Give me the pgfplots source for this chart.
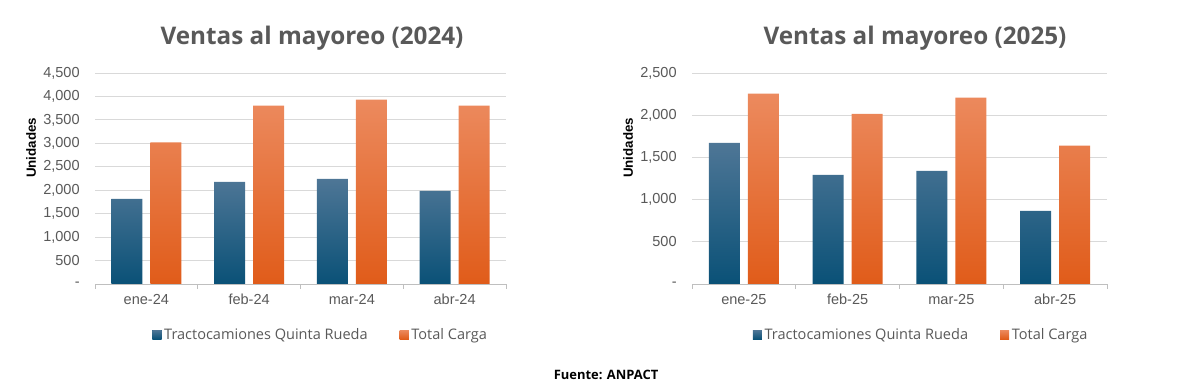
\documentclass[border=0pt]{standalone}
\usepackage{pgfplots}
\pgfplotsset{compat=1.18}
\usepackage{fontspec}
\setmainfont{Liberation Sans}
\newfontfamily\titlefont{Open Sans}
\definecolor{txt}{HTML}{595959}
\definecolor{gridc}{HTML}{D9D9D9}
\definecolor{axc}{HTML}{BFBFBF}
\definecolor{bTop}{HTML}{4E7696}
\definecolor{bMid}{HTML}{1A6189}
\definecolor{bBot}{HTML}{0A5177}
\definecolor{oTop}{HTML}{EC8A5E}
\definecolor{oMid}{HTML}{F07030}
\definecolor{oBot}{HTML}{E05C1A}
\definecolor{bLeg}{HTML}{1F5E83}
\definecolor{oLeg}{HTML}{EE7338}

\pgfplotstableread{
x trac total
0 1816 3019
1 2179 3802
2 2243 3930
3 1987 3802
}\tblA
\pgfplotstableread{
x trac total
0 1673 2255
1 1293 2017
2 1341 2207
3 866 1638
}\tblB

\pgfplotsset{
  mystyle/.style={
    scale only axis,
    height=158.25pt,
    ybar=6pt,
    bar width=23.25pt,
    xmin=-0.5, xmax=3.5,
    xtick={0,1,2,3},
    ymin=0,
    axis x line*=bottom,
    axis y line*=left,
    y axis line style={draw=none},
    x axis line style={draw=axc, line width=0.6pt},
    major tick length=0pt,
    ymajorgrids,
    grid style={draw=gridc, line width=0.6pt},
    tick label style={font=\fontsize{10.9}{12}\selectfont, text=txt},
    yticklabel style={xshift=-8pt},
    xticklabel style={yshift=-4pt},
    extra x ticks={-0.5,0.5,1.5,2.5,3.5},
    extra x tick labels={},
    extra x tick style={grid=none, major tick length=3.5pt, tick align=outside, tick style={draw=axc, line width=0.6pt}},
    legend columns=2,
    legend style={draw=none, fill=none, font=\titlefont\fontsize{10.9}{12}\selectfont, text=txt,
      anchor=center, /tikz/every even column/.append style={column sep=22pt}},
    legend cell align=left,
  },
  bluebar/.style={draw=none, top color=bTop, middle color=bMid, bottom color=bBot,
    legend image code/.code={\fill[bLeg] (0pt,-3.4pt) rectangle (6.8pt,3.4pt);}},
  orangebar/.style={draw=none, top color=oTop, middle color=oMid, bottom color=oBot,
    legend image code/.code={\fill[oLeg] (0pt,-3.4pt) rectangle (6.8pt,3.4pt);}},
}

\begin{document}
\begin{tikzpicture}
\path[use as bounding box] (0,0) rectangle (896.25pt,293.25pt);

\begin{axis}[mystyle,
  at={(71.25pt,80.25pt)}, anchor=south west,
  width=308.25pt,
  ymax=4500,
  ytick={0,500,...,4500},
  yticklabels={-,500,{1,000},{1,500},{2,000},{2,500},{3,000},{3,500},{4,000},{4,500}},
  xticklabels={ene-24,feb-24,mar-24,abr-24},
  legend style={at={(axis description cs:0.55,-0.24)}},
]
\addplot[bluebar] table[x=x,y=trac] {\tblA};
\addplot[orangebar] table[x=x,y=total] {\tblA};
\legend{Tractocamiones Quinta Rueda, Total Carga}
\end{axis}

\begin{axis}[mystyle,
  at={(519pt,80.25pt)}, anchor=south west,
  width=311.25pt,
  ymax=2500,
  ytick={0,500,...,2500},
  yticklabels={-,500,{1,000},{1,500},{2,000},{2,500}},
  xticklabels={ene-25,feb-25,mar-25,abr-25},
  legend style={at={(axis description cs:0.553,-0.24)}},
]
\addplot[bluebar] table[x=x,y=trac] {\tblB};
\addplot[orangebar] table[x=x,y=total] {\tblB};
\legend{Tractocamiones Quinta Rueda, Total Carga}
\end{axis}

\node[font=\titlefont\bfseries\fontsize{18.2}{21}\selectfont, text=txt] at (234pt,264.75pt) {Ventas al mayoreo (2024)};
\node[font=\titlefont\bfseries\fontsize{18.2}{21}\selectfont, text=txt] at (686.25pt,264.75pt) {Ventas al mayoreo (2025)};
\node[font=\bfseries\fontsize{10}{12}\selectfont, rotate=90] at (23.25pt,182.25pt) {Unidades};
\node[font=\bfseries\fontsize{10}{12}\selectfont, rotate=90] at (471pt,182.25pt) {Unidades};
\node[font=\titlefont\bfseries\fontsize{9.7}{11}\selectfont] at (454.5pt,12pt) {Fuente: ANPACT};
\end{tikzpicture}
\end{document}
